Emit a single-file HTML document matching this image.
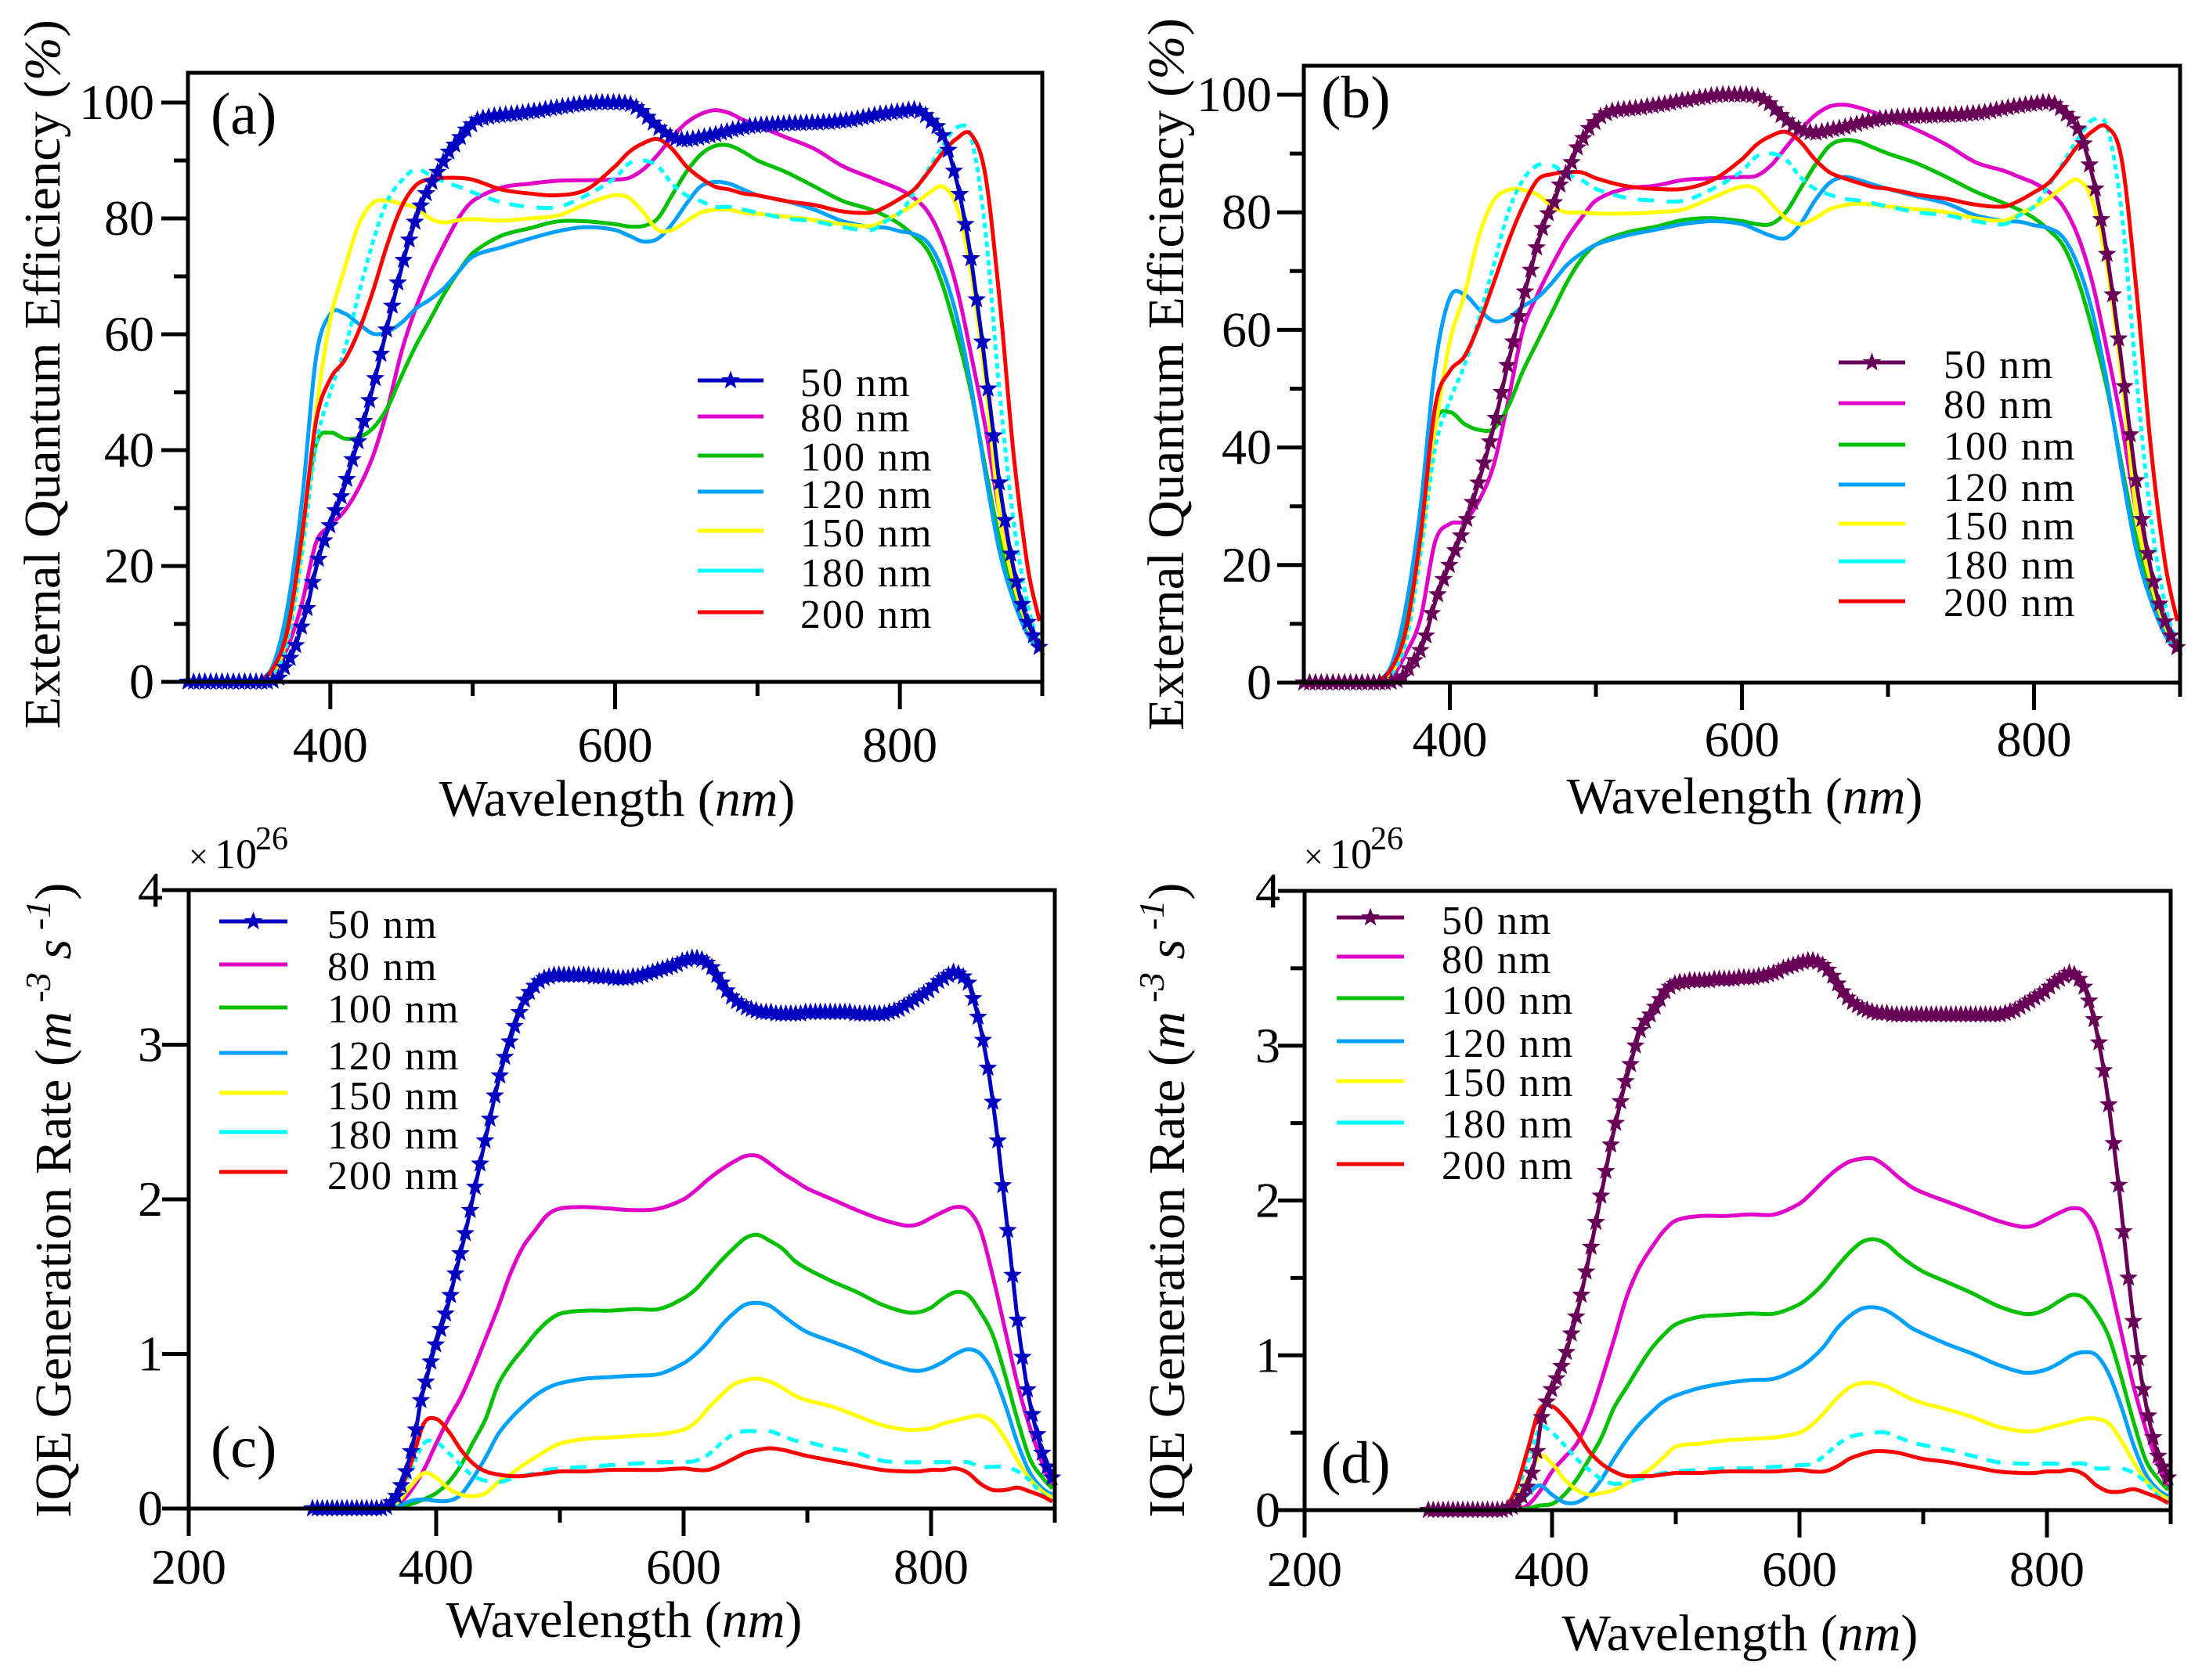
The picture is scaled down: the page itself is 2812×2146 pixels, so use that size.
<!DOCTYPE html>
<html lang="en">
<head>
<meta charset="utf-8">
<title>External Quantum Efficiency and IQE Generation Rate</title>
<style>
html,body{margin:0;padding:0;background:#fff;}
svg{display:block;}
text{font-family:"Liberation Serif",serif;fill:#000;}
.t{font-size:64px;}
.l{font-size:52px;letter-spacing:2px;}
</style>
</head>
<body>
<svg id="fig" xmlns="http://www.w3.org/2000/svg" width="2812" height="2146" viewBox="0 0 2812 2146">
<rect x="0" y="0" width="2812" height="2146" fill="#fff"/>
<text transform="translate(76 478) rotate(-90)" text-anchor="middle" font-size="66" textLength="906" lengthAdjust="spacingAndGlyphs">External Quantum Efficiency (<tspan font-style="italic">%</tspan>)</text>
<text transform="translate(1511 478) rotate(-90)" text-anchor="middle" font-size="66" textLength="910" lengthAdjust="spacingAndGlyphs">External Quantum Efficiency (<tspan font-style="italic">%</tspan>)</text>
<text transform="translate(90 1533) rotate(-90)" text-anchor="middle" font-size="66" textLength="811" lengthAdjust="spacingAndGlyphs">IQE Generation Rate (<tspan font-style="italic">m</tspan><tspan dy="-26" font-size="46" font-style="italic"> -3</tspan><tspan dy="26"> </tspan><tspan font-style="italic">s</tspan><tspan dy="-26" font-size="46" font-style="italic"> -1</tspan><tspan dy="26">)</tspan></text>
<text transform="translate(1512 1533) rotate(-90)" text-anchor="middle" font-size="66" textLength="811" lengthAdjust="spacingAndGlyphs">IQE Generation Rate (<tspan font-style="italic">m</tspan><tspan dy="-26" font-size="46" font-style="italic"> -3</tspan><tspan dy="26"> </tspan><tspan font-style="italic">s</tspan><tspan dy="-26" font-size="46" font-style="italic"> -1</tspan><tspan dy="26">)</tspan></text>
<text x="788" y="1042" text-anchor="middle" font-size="66">Wavelength (<tspan font-style="italic">nm</tspan>)</text>
<text x="2228" y="1039" text-anchor="middle" font-size="66">Wavelength (<tspan font-style="italic">nm</tspan>)</text>
<text x="797" y="2091" text-anchor="middle" font-size="66">Wavelength (<tspan font-style="italic">nm</tspan>)</text>
<text x="2222" y="2108" text-anchor="middle" font-size="66">Wavelength (<tspan font-style="italic">nm</tspan>)</text>
<text x="269" y="171" font-size="76">(a)</text>
<text x="1687" y="150" font-size="76">(b)</text>
<text x="269" y="1874" font-size="76">(c)</text>
<text x="1687" y="1894" font-size="76">(d)</text>
<text y="1109" font-size="54"><tspan x="241" font-size="44">×</tspan><tspan x="274">10</tspan><tspan x="326" dy="-24" font-size="42">26</tspan></text>
<text y="1109" font-size="54"><tspan x="1665" font-size="44">×</tspan><tspan x="1698">10</tspan><tspan x="1750" dy="-24" font-size="42">26</tspan></text>
</svg>
<script>
// ---- chart data ----
const lineWavelengths = [350,360,370,380,390,400,410,420,430,440,450,460,470,480,490,500,520,540,560,580,600,610,620,630,640,650,660,670,680,690,700,720,740,760,780,790,800,810,820,830,840,850,860,870,880,890,898];
const starWavelengths = [300,304,308,312,316,320,324,328,332,336,340,344,348,352,356,360,364,368,372,376,380,384,388,392,396,400,404,408,412,416,420,424,428,432,436,440,444,448,452,456,460,464,468,472,476,480,484,488,492,496,500,504,508,512,516,520,524,528,532,536,540,544,548,552,556,560,564,568,572,576,580,584,588,592,596,600,604,608,612,616,620,624,628,632,636,640,644,648,652,656,660,664,668,672,676,680,684,688,692,696,700,704,708,712,716,720,724,728,732,736,740,744,748,752,756,760,764,768,772,776,780,784,788,792,796,800,804,808,812,816,820,824,828,832,836,840,844,848,852,856,860,864,868,872,876,880,884,888,892,896,900];
const legendLabels = ["50 nm","80 nm","100 nm","120 nm","150 nm","180 nm","200 nm"];
const eqeTickLabels = [0,20,40,60,80,100];
const eqeMinorTicks = [10,30,50,70,90];
const rateTickLabels = [0,1,2,3,4];
const rateMinorTicks = [0.5,1.5,2.5,3.5];
const xTickLabelsTop = [400,600,800];
const xTickLabelsBottom = [200,400,600,800];
const xMinorTicks = [500,700,900];

const a50 = [0,0,0,0,0,0,0,0,0,0,0,0,0,0,0,
0.2,0.7,2.5,4.1,6.3,9.5,12.7,17.2,21.2,24.4,27,29.6,32,35,38.4,41.5,45,48.6,52.4,56.6,60.8,64.9,68.9,72.8,76.3,79.4,82.2,84.3,86.3,88,89.8,91.5,92.7,94,95.3,96.2,
97,97.3,97.5,97.7,97.8,97.9,98,98.1,98.2,98.4,98.5,98.6,98.8,99,99.1,99.3,99.4,99.6,99.7,99.8,99.9,100,100,100,100,
100,99.9,99.7,99.2,98.5,97.5,96.5,95.6,94.8,94.2,93.8,93.6,93.6,93.7,93.9,94.1,94.3,94.5,94.8,95,95.3,95.5,95.7,95.9,96,
96.1,96.2,96.2,96.3,96.3,96.4,96.4,96.4,96.5,96.5,96.5,96.6,96.6,96.7,96.8,96.9,97,97.2,97.4,97.6,97.8,98,98.1,98.3,98.4,
98.5,98.7,98.8,98.5,97.8,96.8,95.9,94.3,91.8,88.2,84.2,79,73.1,66,58.7,50.6,42.5,34.4,27.9,22.1,17.3,13.4,10.3,8,6];
const a80 = [0,1.3,6,13.5,24,27,29.5,33.5,39,47,57,64.5,70.5,75.5,80,83,85.3,86,86.5,86.6,86.7,87,88.5,91,94,96.5,98,98.7,98.2,97,96,94,92,89,87,86,85,83.5,81,76,68,56.5,44,29,18,10,6.5];
const a100 = [0,2.5,12,26,41,43,42,42.2,43.8,47.3,52.8,58,62.5,67,70.8,74,77,78.3,79.5,79.5,79,78.6,78.7,80,84,88,91,92.5,92.6,91.5,90,88,85.5,83,81.5,80.4,79,77,74.3,68.5,60,50,37,24.5,14.8,9,6];
const a120 = [0,3,13,31,56,63.5,63.6,61.8,60.1,60.4,62,64.4,66,68,70.8,73.4,75,76.5,77.8,78.5,78,77,76,76.5,79,82.5,85.5,86.3,86,85,84,83,81.5,79.5,78.5,78.4,77.8,77.3,75.7,71,63,51,36,22.5,14,8,5.5];
const a150 = [0,1.5,8,23,46.5,62.5,71.3,79,82.7,83.1,82.5,81.9,80,79.3,79.7,79.9,79.6,80,80.5,82.5,84,83.5,81,78,78,79.5,81,81.5,81.5,81,80.8,80.3,79.7,79,78.7,79.7,81,82.4,84.3,85.5,82,70.8,52,29,17,9.5,6];
const a180 = [0,1.5,7,22,41,50,57.3,67,76,83,86.5,88.5,87.5,86.3,85.5,84.5,82.8,82,82,84,87,89.5,90,89,86,84,83,82,82,81.5,81,80,79.5,78.5,78,79.5,81,84.5,88.5,92.5,95.7,94,78,50,27.5,13,6.5];
const a200 = [0,2.4,9,25,45,52.3,55.5,60.6,67.5,75.5,82,85.7,86.8,87,87,86.7,85,84.3,84,85,89,91.5,93,93.7,92,89,87,85.5,85,84.3,84,83,82.3,81.2,81,82,83.4,85,88,91.3,93.8,94.5,87.5,66,39,19.5,10.5];

const b50 = [0,0,0,0,0,0,0,0,0,0,0,0,0,0,0,
0.1,0.4,1,2.4,3.8,5.5,8,11.8,15,17.6,20,22.5,25,27.8,30.7,34,37.4,41,45,49.4,54,58,62.3,66.5,70.2,74,77.3,79.8,81.7,84.7,86.6,88.5,91,92.6,94.3,95.3,
96.3,96.8,97.2,97.4,97.5,97.6,97.7,97.8,98,98.1,98.3,98.4,98.6,98.8,99,99.1,99.3,99.5,99.6,99.8,99.9,100,100,100,100,
100,99.9,99.7,99.2,98.5,97.5,96.5,95.6,94.8,94.2,93.8,93.6,93.5,93.7,93.9,94.1,94.3,94.5,94.8,95,95.3,95.5,95.7,95.9,96,
96.1,96.2,96.2,96.3,96.3,96.4,96.4,96.4,96.5,96.5,96.5,96.6,96.6,96.7,96.8,96.9,97,97.2,97.4,97.6,97.8,98,98.1,98.3,98.4,
98.5,98.7,98.7,98.4,97.7,96.7,95.8,94.2,91.7,88.1,84,78.8,72.9,66,58.5,50.4,42.2,34.4,27.8,22,17.2,13.4,10.4,8,6];
const b80 = [0,0.8,5,11,24,27,27.5,31,37,48,60,66,71,75.5,79,82,84,84.5,85.5,85.8,86,86.2,88,91,94,96.5,98,98.3,97.8,97,96,94,91.5,88.5,87,86,85,83.5,81,76,68,56.5,44,29,18,10,6.5];
const b100 = [0,2.5,12,27,44,46,44,43,43.2,47,53,58,63,68,72,74.5,76.5,77.5,78.7,79,78.5,78,78,80,84,88,91.3,92.3,92,91,90,88.3,86,83.5,81.5,80.4,79,77,74.3,68.5,60,50,37,24.5,14.8,9,6];
const b120 = [0,3,13,30,54,65.5,66,63.5,61.5,62,64,65.5,68,71,73,74.5,76,77,78,78.5,78,77,76,75.6,78,82,85,86,85.5,84.7,84,82.7,81.5,79.5,78.5,78.4,77.8,77.3,75.7,71,63,51,36,22.5,14,8,5.5];
const b150 = [0,1.5,8,23,43,58,66,76,82,83.8,83.8,83,81,80,80,79.8,79.8,80,80.5,82.5,84.4,84,81.5,79,78,79,80.5,81.2,81.5,81.3,81,80.5,80,79,78.6,79.7,81,82.4,84.3,85.5,82,70.8,52,29,17,9.5,6];
const b180 = [0,1.5,7,22,40,48,54,62,71,80,85.5,88,88,86.5,85.5,84,82.5,82,82,84,87,89.5,90,89,86,84,83,82.3,82,81.5,81,80,79.5,78.5,78,79.5,81,84.5,88.5,92.5,95.7,94.5,80,52,28,13,6.5];
const b200 = [0,2.4,9,25,47,53,55.5,61,68,75,81,85.5,86.5,86.8,86.8,85.8,84.5,84,84,85.5,89,91.5,93,93.7,92,89,86.8,85.8,85,84.3,84,83,82.3,81.3,81,82,83.4,85,88,91.3,93.8,94.5,89,67,40,20,10.5];

const c50 = [0,0,0,0,0,0,0,0,0,0,0,0,0,0,0,
0.01,0.04,0.08,0.15,0.24,0.37,0.51,0.7,0.82,0.95,1.06,1.16,1.26,1.38,1.52,1.65,1.78,1.93,2.08,2.23,2.38,2.52,2.67,2.8,2.92,3.02,3.12,3.21,3.29,3.34,3.38,3.41,3.43,3.44,3.45,3.45,
3.45,3.45,3.45,3.45,3.45,3.45,3.44,3.44,3.44,3.44,3.43,3.43,3.43,3.43,3.44,3.44,3.45,3.46,3.47,3.48,3.49,3.5,3.51,3.52,3.54,
3.55,3.56,3.56,3.55,3.53,3.5,3.45,3.4,3.35,3.31,3.28,3.26,3.24,3.23,3.22,3.21,3.21,3.21,3.2,3.2,3.2,3.2,3.2,3.2,3.21,
3.21,3.21,3.21,3.21,3.21,3.21,3.21,3.21,3.21,3.2,3.2,3.2,3.2,3.2,3.2,3.2,3.21,3.22,3.23,3.25,3.27,3.29,3.31,3.33,3.35,
3.38,3.41,3.43,3.45,3.47,3.46,3.44,3.4,3.3,3.18,3.03,2.85,2.63,2.38,2.09,1.8,1.51,1.22,0.98,0.77,0.61,0.48,0.36,0.27,0.2];
const c80 = [0,0,0.03,0.12,0.25,0.42,0.58,0.72,0.9,1.1,1.3,1.52,1.69,1.8,1.9,1.94,1.95,1.94,1.93,1.94,2,2.06,2.13,2.19,2.24,2.28,2.28,2.23,2.17,2.12,2.07,2,1.93,1.87,1.83,1.84,1.88,1.92,1.95,1.93,1.8,1.5,1.15,0.8,0.52,0.29,0.14];
const c100 = [0,0,0.01,0.03,0.06,0.1,0.17,0.28,0.43,0.58,0.8,0.93,1.03,1.13,1.21,1.26,1.28,1.28,1.29,1.29,1.36,1.42,1.51,1.6,1.68,1.75,1.77,1.73,1.68,1.6,1.55,1.47,1.4,1.32,1.27,1.27,1.3,1.36,1.4,1.38,1.27,1.12,0.86,0.57,0.32,0.2,0.13];
const c120 = [0,0,0.02,0.05,0.06,0.05,0.05,0.09,0.2,0.33,0.48,0.58,0.66,0.73,0.78,0.81,0.84,0.85,0.86,0.87,0.94,1,1.08,1.18,1.26,1.32,1.33,1.31,1.25,1.19,1.14,1.08,1.02,0.95,0.9,0.89,0.91,0.95,1,1.03,1,0.88,0.67,0.42,0.23,0.13,0.09];
const c150 = [0,0,0.05,0.15,0.23,0.2,0.13,0.09,0.08,0.1,0.17,0.22,0.28,0.33,0.38,0.42,0.45,0.46,0.47,0.48,0.51,0.56,0.65,0.73,0.8,0.83,0.84,0.82,0.78,0.73,0.7,0.66,0.6,0.54,0.51,0.51,0.52,0.55,0.57,0.59,0.6,0.56,0.45,0.31,0.19,0.11,0.07];
const c180 = [0,0,0.08,0.25,0.42,0.43,0.36,0.28,0.21,0.18,0.17,0.19,0.21,0.23,0.25,0.26,0.27,0.28,0.29,0.3,0.3,0.31,0.35,0.42,0.48,0.5,0.5,0.5,0.47,0.44,0.43,0.39,0.36,0.31,0.3,0.3,0.3,0.3,0.3,0.3,0.27,0.27,0.27,0.24,0.18,0.09,0.05];
const c200 = [0,0,0.1,0.3,0.55,0.58,0.5,0.38,0.29,0.24,0.22,0.21,0.21,0.22,0.23,0.24,0.24,0.25,0.25,0.25,0.26,0.25,0.25,0.28,0.32,0.36,0.38,0.39,0.38,0.36,0.34,0.31,0.28,0.25,0.24,0.24,0.25,0.25,0.26,0.23,0.16,0.12,0.12,0.135,0.11,0.08,0.045];

const d50 = [0,0,0,0,0,0,0,0,0,0,0,0,0,0,0,
0,0.01,0.02,0.05,0.09,0.15,0.24,0.38,0.6,0.7,0.78,0.85,0.93,1.02,1.14,1.25,1.39,1.54,1.7,1.86,2.03,2.19,2.36,2.5,2.64,2.77,2.88,3,3.1,3.16,3.2,3.25,3.3,3.35,3.38,3.4,
3.41,3.41,3.42,3.42,3.42,3.42,3.42,3.43,3.43,3.43,3.43,3.43,3.44,3.44,3.44,3.44,3.45,3.45,3.46,3.47,3.48,3.5,3.51,3.52,3.53,
3.54,3.55,3.55,3.54,3.52,3.49,3.45,3.4,3.35,3.31,3.28,3.26,3.24,3.23,3.22,3.21,3.21,3.21,3.2,3.2,3.2,3.2,3.2,3.2,3.2,
3.2,3.2,3.2,3.2,3.2,3.2,3.2,3.2,3.2,3.2,3.2,3.2,3.2,3.2,3.2,3.2,3.21,3.22,3.23,3.25,3.27,3.29,3.31,3.33,3.35,
3.38,3.41,3.43,3.45,3.47,3.46,3.43,3.38,3.29,3.17,3.02,2.84,2.62,2.37,2.1,1.8,1.5,1.22,0.98,0.78,0.61,0.47,0.35,0.28,0.21];
const d80 = [0,0,0,0.03,0.12,0.25,0.34,0.43,0.6,0.84,1.1,1.37,1.56,1.69,1.8,1.87,1.9,1.9,1.91,1.91,1.98,2.05,2.13,2.2,2.25,2.27,2.27,2.22,2.15,2.09,2.05,1.99,1.93,1.87,1.83,1.84,1.88,1.92,1.95,1.93,1.8,1.5,1.15,0.8,0.52,0.29,0.14];
const d100 = [0,0,0,0.01,0.03,0.04,0.1,0.2,0.33,0.47,0.66,0.79,0.92,1.04,1.13,1.2,1.25,1.26,1.27,1.27,1.33,1.39,1.47,1.57,1.66,1.73,1.75,1.72,1.65,1.59,1.54,1.47,1.4,1.32,1.27,1.27,1.3,1.35,1.39,1.37,1.27,1.12,0.86,0.57,0.32,0.2,0.13];
const d120 = [0,0,0.03,0.1,0.16,0.1,0.05,0.05,0.1,0.2,0.33,0.45,0.55,0.63,0.7,0.74,0.79,0.82,0.84,0.85,0.92,0.98,1.06,1.17,1.25,1.3,1.31,1.29,1.24,1.18,1.14,1.07,1.01,0.94,0.89,0.89,0.91,0.95,1,1.02,1,0.88,0.67,0.42,0.23,0.13,0.09];
const d150 = [0,0,0.06,0.2,0.35,0.3,0.2,0.13,0.1,0.11,0.13,0.17,0.22,0.27,0.34,0.41,0.43,0.45,0.46,0.47,0.5,0.55,0.63,0.72,0.79,0.82,0.82,0.8,0.76,0.72,0.69,0.65,0.6,0.54,0.51,0.51,0.53,0.55,0.57,0.59,0.59,0.56,0.45,0.31,0.19,0.11,0.07];
const d180 = [0,0,0.1,0.3,0.53,0.5,0.42,0.33,0.26,0.2,0.17,0.18,0.2,0.22,0.24,0.25,0.26,0.27,0.27,0.28,0.29,0.3,0.35,0.42,0.47,0.49,0.5,0.5,0.47,0.44,0.42,0.39,0.35,0.31,0.3,0.3,0.3,0.3,0.3,0.3,0.27,0.27,0.27,0.24,0.18,0.09,0.05];
const d200 = [0,0,0.12,0.38,0.65,0.67,0.6,0.5,0.38,0.3,0.25,0.22,0.22,0.22,0.23,0.24,0.24,0.25,0.25,0.25,0.26,0.25,0.25,0.28,0.33,0.36,0.38,0.38,0.37,0.35,0.33,0.31,0.28,0.25,0.24,0.24,0.25,0.25,0.26,0.23,0.16,0.12,0.12,0.135,0.11,0.08,0.045];

// ---- styling and layout ----
const lineColors = ["#e000c8","#00c000","#00a0ff","#ffff00","#00ffff","#ff0000"];
const svg = document.getElementById("fig");
const NS = "http://www.w3.org/2000/svg";
const starAxisCalibration = 0.9963;

function mk(tag, attrs, parent){
  const e = document.createElementNS(NS, tag);
  for (const k in attrs) e.setAttribute(k, attrs[k]);
  (parent || svg).appendChild(e);
  return e;
}
function smoothPath(xs, ys){
  let d = "M" + xs[0].toFixed(1) + " " + ys[0].toFixed(1);
  for (let i = 0; i < xs.length - 1; i++){
    const p = Math.max(i - 1, 0), n = Math.min(i + 2, xs.length - 1);
    const h = xs[i + 1] - xs[i];
    const m0 = (ys[i + 1] - ys[p]) / ((xs[i + 1] - xs[p]) || 1);
    const m1 = (ys[n] - ys[i]) / ((xs[n] - xs[i]) || 1);
    d += "C" + (xs[i] + h / 3).toFixed(1) + " " + (ys[i] + m0 * h / 3).toFixed(1) + " " +
         (xs[i + 1] - h / 3).toFixed(1) + " " + (ys[i + 1] - m1 * h / 3).toFixed(1) + " " +
         xs[i + 1].toFixed(1) + " " + ys[i + 1].toFixed(1);
  }
  return d;
}
// dotted style of the source: dashes get long on flat stretches, short on steep ones
function dashAlong(path){
  const total = path.getTotalLength();
  let prev = path.getPointAtLength(0);
  let d = "M" + prev.x.toFixed(1) + " " + prev.y.toFixed(1);
  let on = true, acc = 0;
  for (let s = 1; s <= total; s += 1){
    const pt = path.getPointAtLength(s);
    acc += Math.hypot((pt.x - prev.x) / 3.5, pt.y - prev.y);
    if (on){
      d += "L" + pt.x.toFixed(1) + " " + pt.y.toFixed(1);
      if (acc >= 6){ on = false; acc = 0; }
    } else if (acc >= 4.5){
      on = true; acc = 0;
      d += "M" + pt.x.toFixed(1) + " " + pt.y.toFixed(1);
    }
    prev = pt;
  }
  path.setAttribute("d", d);
}
function starPoints(cx, cy, r){
  const pts = [];
  for (let i = 0; i < 10; i++){
    const rad = i % 2 ? r * 0.42 : r;
    const a = -Math.PI / 2 + i * Math.PI / 5;
    pts.push((cx + rad * Math.cos(a)).toFixed(1) + "," + (cy + rad * Math.sin(a)).toFixed(1));
  }
  return pts.join(" ");
}

const panels = [
 {id:"a", star:a50, lines:[a80,a100,a120,a150,a180,a200], starColor:"#0000c0",
  x0v:300,x1v:900,x0:240,x1:1331, yv1:100,y0:871,y1:131,top:93, yLabels:eqeTickLabels,yMinor:eqeMinorTicks,xLabels:xTickLabelsTop,
  yLabelX:197,xLabelY:973,
  legX0:891,legX1:975,legTx:1022,legY:[486,532,582,628,678,729,782],legB:[506,551,601,649,698,749,802]},
 {id:"b", star:b50, lines:[b80,b100,b120,b150,b180,b200], starColor:"#680058",
  x0v:300,x1v:900,x0:1665,x1:2784, yv1:100,y0:872,y1:121,top:84, yLabels:eqeTickLabels,yMinor:eqeMinorTicks,xLabels:xTickLabelsTop,
  yLabelX:1624,xLabelY:966,
  legX0:2348,legX1:2433,legTx:2482,legY:[463,515,568,619,669,717,768],legB:[483,534,587,640,689,739,787]},
 {id:"c", star:c50, lines:[c80,c100,c120,c150,c180,c200], starColor:"#0000c0",
  x0v:200,x1v:900,x0:241,x1:1347, yv1:4,y0:1927,y1:1137,top:1137, yLabels:rateTickLabels,yMinor:[],xLabels:xTickLabelsBottom,
  yLabelX:208,xLabelY:2023,
  legX0:280,legX1:367,legTx:418,legY:[1177,1232,1287,1345,1396,1446,1497],legB:[1198,1252,1306,1366,1417,1467,1519]},
 {id:"d", star:d50, lines:[d80,d100,d120,d150,d180,d200], starColor:"#680058",
  x0v:200,x1v:900,x0:1666,x1:2772, yv1:4,y0:1929,y1:1138,top:1138, yLabels:rateTickLabels,yMinor:rateMinorTicks,xLabels:xTickLabelsBottom,
  yLabelX:1635,xLabelY:2026,
  legX0:1707,legX1:1793,legTx:1841,legY:[1172,1222,1275,1330,1381,1434,1487],legB:[1193,1243,1295,1350,1400,1453,1506]}
];

panels.forEach(function(p){
  const sx = function(v){ return p.x0 + (v - p.x0v) * (p.x1 - p.x0) / (p.x1v - p.x0v); };
  const sxStar = function(v){ return sx(300 + (v - 300) * starAxisCalibration); };
  const sy = function(v){ return p.y0 + v * (p.y1 - p.y0) / p.yv1; };
  const g = mk("g", {});
  
  

  // series lines
  p.lines.forEach(function(vals, i){
    const path = mk("path", {
      d: smoothPath(lineWavelengths.map(sx), vals.map(sy)),
      fill: "none", stroke: lineColors[i], "stroke-width": 5, "stroke-linejoin": "round"
    }, g);
    if (i === 4) dashAlong(path);
    
    
  });

  // star series
  const starLine = mk("path", {
    d: smoothPath(starWavelengths.map(sxStar), p.star.map(sy)),
    fill: "none", stroke: p.starColor, "stroke-width": 5
  }, g);
  
  
  p.star.forEach(function(v, i){
    const st = mk("polygon", {points: starPoints(sxStar(starWavelengths[i]), sy(v), 12.5), fill: p.starColor}, g);
    
    
  });

  // frame
  const frame = mk("rect", {x:p.x0, y:p.top, width:p.x1 - p.x0, height:p.y0 - p.top, fill:"none", stroke:"#000", "stroke-width":5}, g);
  
  

  // y ticks
  p.yLabels.forEach(function(v){
    const t = mk("line", {x1:p.x0 - 34, x2:p.x0, y1:sy(v), y2:sy(v), stroke:"#000", "stroke-width":5}, g);
    
    
    const l = mk("text", {x:p.yLabelX, y:sy(v) + 21, "text-anchor":"end", "class":"t"}, g);
    l.textContent = v;
    
    
  });
  p.yMinor.forEach(function(v){
    const t = mk("line", {x1:p.x0 - 18, x2:p.x0, y1:sy(v), y2:sy(v), stroke:"#000", "stroke-width":5}, g);
    
    
  });

  // x ticks
  p.xLabels.forEach(function(v){
    const t = mk("line", {x1:sx(v), x2:sx(v), y1:p.y0, y2:p.y0 + 35, stroke:"#000", "stroke-width":5}, g);
    
    
    const l = mk("text", {x:sx(v), y:p.xLabelY, "text-anchor":"middle", "class":"t"}, g);
    l.textContent = v;
    
    
  });
  xMinorTicks.forEach(function(v){
    const t = mk("line", {x1:sx(v), x2:sx(v), y1:p.y0, y2:p.y0 + 18, stroke:"#000", "stroke-width":5}, g);
    
    
  });

  // legend
  legendLabels.forEach(function(txt, i){
    const color = i === 0 ? p.starColor : lineColors[i - 1];
    const ln = mk("line", {x1:p.legX0, x2:p.legX1, y1:p.legY[i], y2:p.legY[i], stroke:color, "stroke-width":5}, g);
    
    
    if (i === 0){
      const s = mk("polygon", {points: starPoints((p.legX0 + p.legX1) / 2, p.legY[i], 12.5), fill: color}, g);
      
      
    }
    const lt = mk("text", {x:p.legTx, y:p.legB[i], "class":"l"}, g);
    lt.textContent = txt;
    
    
  });
});
</script>
</body>
</html>
